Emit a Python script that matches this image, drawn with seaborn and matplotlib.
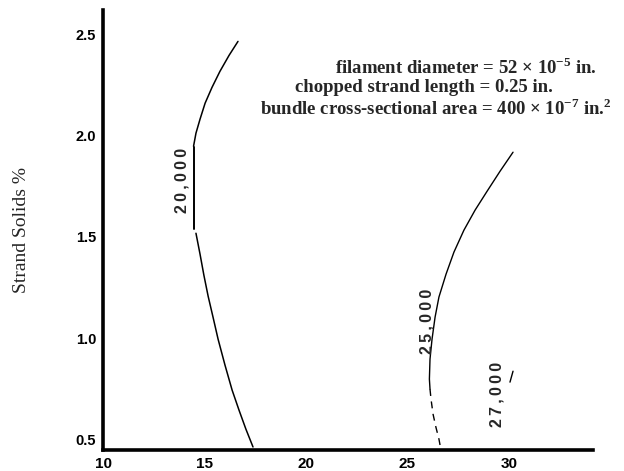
import matplotlib
matplotlib.use('Agg')
import matplotlib.pyplot as plt
import seaborn as sns

# 20,000 contour: upper arc, straight labelled piece, lower arc
c20_upper_x = [16.65, 16.21, 15.76, 15.37, 15.03, 14.78, 14.58, 14.46]
c20_upper_y = [2.465, 2.396, 2.317, 2.238, 2.160, 2.081, 2.012, 1.947]
c20_mid_x = [14.48, 14.48]
c20_mid_y = [1.943, 1.538]
c20_lower_x = [14.58, 14.78, 14.97, 15.18, 15.42, 15.67, 16.01, 16.36, 16.70, 17.04, 17.39]
c20_lower_y = [1.518, 1.415, 1.311, 1.207, 1.104, 0.995, 0.867, 0.744, 0.645, 0.551, 0.463]

# 25,000 contour
c25_x = [30.20, 29.56, 28.92, 28.33, 27.78, 27.29, 26.90, 26.55, 26.36, 26.21, 26.11, 26.08, 26.11]
c25_y = [1.918, 1.824, 1.725, 1.632, 1.533, 1.425, 1.316, 1.203, 1.104, 0.995, 0.897, 0.798, 0.749]
c25_low_x = [26.11, 26.16, 26.26, 26.40, 26.55, 26.65]
c25_low_y = [0.749, 0.699, 0.625, 0.561, 0.502, 0.448]

# 27,000 contour (only a short piece survives)
c27_x = [30.20, 30.05]
c27_y = [0.837, 0.783]

contour_labels = ['20,000', '25,000', '27,000']
label_x = [13.89, 25.96, 29.41]
label_y = [1.780, 1.084, 0.724]

xticks = [10, 15, 20, 25, 30]
xtick_labels = ['10', '15', '20', '25', '30']
yticks = [0.5, 1.0, 1.5, 2.0, 2.5]
ytick_labels = ['0.5', '1.0', '1.5', '2.0', '2.5']

sns.set_style('white')
plt.rcParams['font.family'] = ['Liberation Sans', 'DejaVu Sans']
plt.rcParams['mathtext.fontset'] = 'custom'
plt.rcParams['mathtext.rm'] = 'Liberation Serif:bold'
plt.rcParams['mathtext.bf'] = 'Liberation Serif:bold'

fig = plt.figure(figsize=(6.24, 4.71), dpi=100)
ax = fig.add_axes([103 / 624, 21 / 471, 490 / 624, 440 / 471])

kw = dict(color='black', sort=False, estimator=None, ax=ax, legend=False)
sns.lineplot(x=c20_upper_x, y=c20_upper_y, lw=1.1, **kw)
sns.lineplot(x=c20_mid_x, y=c20_mid_y, lw=1.4, **kw)
sns.lineplot(x=c20_lower_x, y=c20_lower_y, lw=1.1, **kw)
sns.lineplot(x=c25_x, y=c25_y, lw=1.0, **kw)
sns.lineplot(x=c25_low_x, y=c25_low_y, lw=1.0, linestyle=(0, (5, 4)), **kw)
sns.lineplot(x=c27_x, y=c27_y, lw=1.0, **kw)

for t, x, y in zip(contour_labels, label_x, label_y):
    spaced = '\u2009'.join(t)
    ax.text(x, y, spaced, rotation=90, ha='center', va='center',
            fontsize=11.5, fontweight='bold')

ax.set_xlim(10, 34.14)
ax.set_ylim(0.448, 2.62)
ax.set_xticks(xticks)
ax.set_xticklabels(xtick_labels, fontweight='bold', fontsize=11)
ax.set_yticks(yticks)
ax.set_yticklabels(ytick_labels, fontweight='bold', fontsize=10.5)
ax.tick_params(direction='in', length=7, width=2, colors='black', pad=5)

sns.despine(ax=ax)
for side in ['left', 'bottom']:
    ax.spines[side].set_linewidth(2.6)
    ax.spines[side].set_color('black')

serif = ['Liberation Serif', 'DejaVu Serif']
ax.set_ylabel('Strand Solids %', family=serif, fontsize=14)
ax.yaxis.set_label_coords(-0.149, 0.50)

ax.text(1.008, 0.868, r'filament diameter = 52 $\times$ 10$^{-5}$ in.', transform=ax.transAxes,
        ha='right', va='center', fontsize=13.5, fontweight='bold', family=serif)
ax.text(0.918, 0.823, 'chopped strand length = 0.25 in.', transform=ax.transAxes,
        ha='right', va='center', fontsize=13.5, fontweight='bold', family=serif)
ax.text(1.039, 0.777, r'bundle cross-sectional area = 400 $\times$ 10$^{-7}$ in.$^{2}$', transform=ax.transAxes,
        ha='right', va='center', fontsize=13.5, fontweight='bold', family=serif)

fig.savefig('out.png', dpi=100, facecolor='white')
